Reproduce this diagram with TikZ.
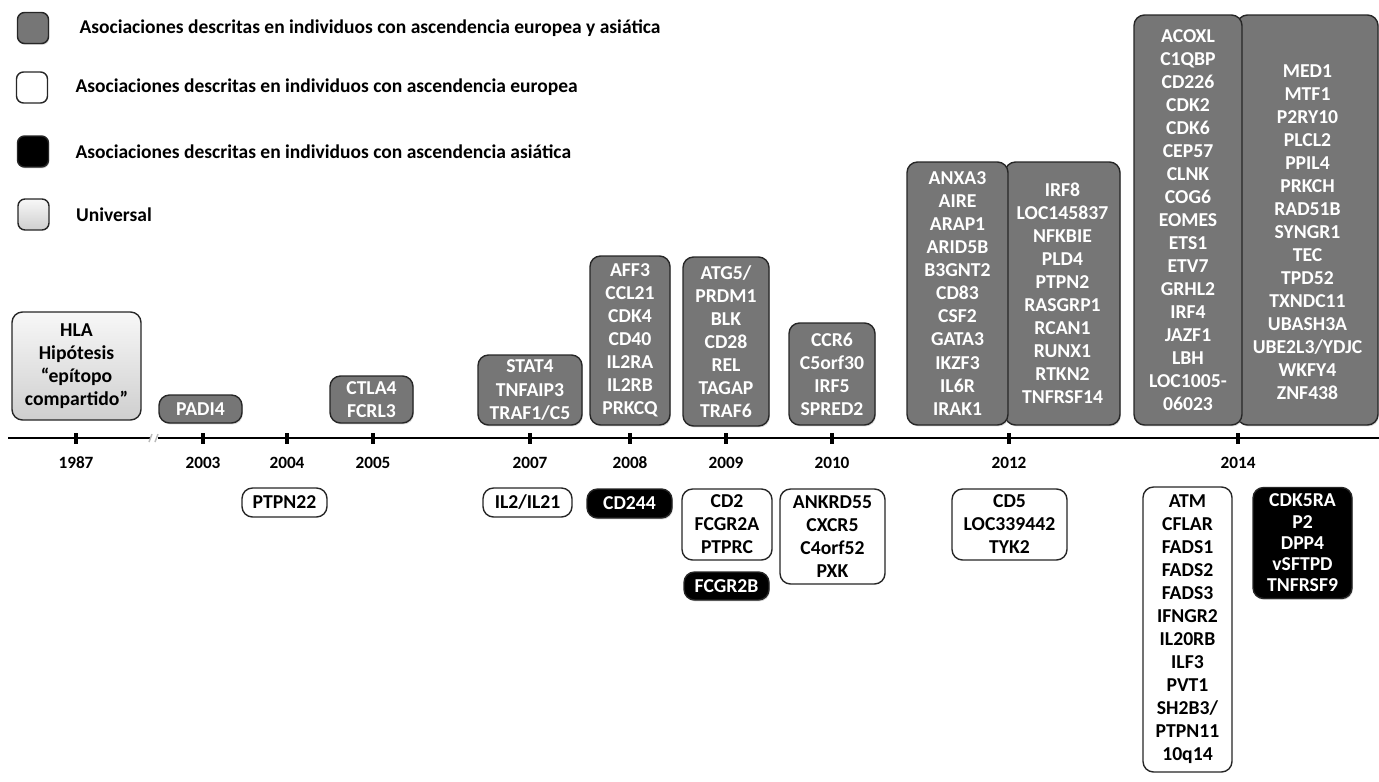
\documentclass[tikz,border=0pt]{standalone}
\usepackage{fontspec}
\setmainfont{Carlito}
\usetikzlibrary{positioning,shadows}

\definecolor{assocgray}{RGB}{118,118,118}
\newlength{\pxu}
\setlength{\pxu}{0.02cm}
\newcommand{\genefont}{\fontsize{11.2}{13.1}\selectfont\bfseries}

\begin{document}
\begin{tikzpicture}[
  x=0.02cm, y=-0.02cm,
  gene/.style={draw=black!85, line width=0.8pt, rounded corners=6pt,
    align=center, inner sep=0pt, font=\genefont},
  both/.style={gene, fill=assocgray, text=white,
    drop shadow={shadow xshift=0.5pt, shadow yshift=-0.8pt, opacity=0.3}},
  euro/.style={gene, fill=white, text=black},
  asia/.style={gene, fill=black, text=white,
    drop shadow={shadow xshift=0.5pt, shadow yshift=-0.8pt, opacity=0.3}},
  univ/.style={gene, top color=gray!6, bottom color=gray!38, text=black},
  legsq/.style={minimum width=31\pxu, minimum height=31\pxu, rounded corners=4pt},
  legtext/.style={font=\fontsize{11.1}{13}\selectfont\bfseries, inner sep=0pt},
  tick/.style={fill=black, inner sep=0pt, minimum width=4.5\pxu, minimum height=11\pxu},
  yearlab/.style={font=\fontsize{9.8}{11}\selectfont\bfseries, inner sep=0pt}
]
\useasboundingbox (0,0) rectangle (1379,781);

% legend
\node[both, legsq] (lgboth) at (33,28) {};
\node[euro, legsq] (lgeuro) at (32,87.5) {};
\node[asia, legsq] (lgasia) at (33,151.5) {};
\node[univ, legsq] (lguniv) at (33.5,214.5) {};
\node[legtext, right=30\pxu of lgboth] (txboth)
  {Asociaciones descritas en individuos con ascendencia europea y asiática};
\node[legtext, right=27\pxu of lgeuro] (txeuro)
  {Asociaciones descritas en individuos con ascendencia europea};
\node[legtext, right=26\pxu of lgasia] (txasia)
  {Asociaciones descritas en individuos con ascendencia asiática};
\node[legtext, right=26\pxu of lguniv] (txuniv) {Universal};

% time axis
\draw[line width=1.1pt] (8,438) -- (1379,438);
\fill[white] (150,433) rectangle (158,443);
\draw[gray!55, line width=0.8pt] (149,442) -- (152,434) (155,442) -- (158,434);
\foreach \xx/\yr in {76/1987,203/2003,287/2004,373/2005,530/2007,
                     630/2008,726/2009,832/2010,1009/2012,1238/2014}{
  \node[tick] (tk\yr) at (\xx,438) {};
  \node[yearlab] (yr\yr) at (\xx,463) {\yr};
}

% above the axis
\node[univ, minimum width=129\pxu, minimum height=108\pxu] (hla) at (76.5,366)
  {HLA\\Hipótesis\\“epítopo\\compartido”};
\node[both, minimum width=83\pxu, minimum height=28\pxu] (padi) at (200.5,409)
  {PADI4};
\node[both, minimum width=83\pxu, minimum height=47\pxu] (ctla) at (371.5,399.5)
  {CTLA4\\FCRL3};
\node[both, minimum width=104\pxu, minimum height=70\pxu] (up07) at (530,390)
  {STAT4\\TNFAIP3\\TRAF1/C5};
\node[both, minimum width=80\pxu, minimum height=169\pxu] (up08) at (630,340.5)
  {AFF3\\CCL21\\CDK4\\CD40\\IL2RA\\IL2RB\\PRKCQ};
\node[both, minimum width=86\pxu, minimum height=169\pxu] (up09) at (726,341.5)
  {ATG5/\\PRDM1\\BLK\\CD28\\REL\\TAGAP\\TRAF6};
\node[both, minimum width=86\pxu, minimum height=102\pxu] (up10) at (832,374)
  {CCR6\\C5orf30\\IRF5\\SPRED2};
\node[both, minimum width=115\pxu, minimum height=263\pxu] (up12b) at (1062.5,293.5)
  {IRF8\\LOC145837\\NFKBIE\\PLD4\\PTPN2\\RASGRP1\\RCAN1\\RUNX1\\RTKN2\\TNFRSF14};
\node[both, minimum width=101\pxu, minimum height=263\pxu] (up12a) at (957.5,293.5)
  {ANXA3\\AIRE\\ARAP1\\ARID5B\\B3GNT2\\CD83\\CSF2\\GATA3\\IKZF3\\IL6R\\IRAK1};
\node[both, minimum width=141\pxu, minimum height=410\pxu] (up14b) at (1307.5,220) {};
\node[font=\genefont, text=white, align=center, inner sep=0pt] (up14blist)
  at (1307.5,232.5)
  {MED1\\MTF1\\P2RY10\\PLCL2\\PPIL4\\PRKCH\\RAD51B\\SYNGR1\\TEC\\TPD52\\TXNDC11\\%
   UBASH3A\\UBE2L3/YDJC\\WKFY4\\ZNF438};
\node[both, minimum width=108\pxu, minimum height=410\pxu] (up14a) at (1188,220)
  {ACOXL\\C1QBP\\CD226\\CDK2\\CDK6\\CEP57\\CLNK\\COG6\\EOMES\\ETS1\\ETV7\\GRHL2\\%
   IRF4\\JAZF1\\LBH\\LOC1005-\\06023};

% below the axis
\node[euro, minimum width=85\pxu, minimum height=29\pxu] (lo04) at (284.5,502.5)
  {PTPN22};
\node[euro, minimum width=89\pxu, minimum height=29\pxu] (lo07) at (527.5,502.5)
  {IL2/IL21};
\node[asia, minimum width=85\pxu, minimum height=29\pxu] (lo08) at (629.5,503.5)
  {CD244};
\node[euro, minimum width=90\pxu, minimum height=71\pxu] (lo09) at (727,524.5)
  {CD2\\FCGR2A\\PTPRC};
\node[asia, minimum width=85\pxu, minimum height=28\pxu] (lo09b) at (726.5,586)
  {FCGR2B};
\node[euro, minimum width=105\pxu, minimum height=95\pxu] (lo10) at (832.5,536.5)
  {ANKRD55\\CXCR5\\C4orf52\\PXK};
\node[euro, minimum width=115\pxu, minimum height=71\pxu] (lo12) at (1009.5,524.5)
  {CD5\\LOC339442\\TYK2};
\node[euro, minimum width=89\pxu, minimum height=285\pxu] (lo14) at (1187.5,629.5)
  {ATM\\CFLAR\\FADS1\\FADS2\\FADS3\\IFNGR2\\IL20RB\\ILF3\\PVT1\\SH2B3/\\PTPN11\\10q14};
\node[asia, minimum width=99\pxu, minimum height=111\pxu, font=\fontsize{11.2}{12.1}\selectfont\bfseries]
  (lo14b) at (1302.5,543)
  {CDK5RA\\P2\\DPP4\\vSFTPD\\TNFRSF9};
\end{tikzpicture}
\end{document}
